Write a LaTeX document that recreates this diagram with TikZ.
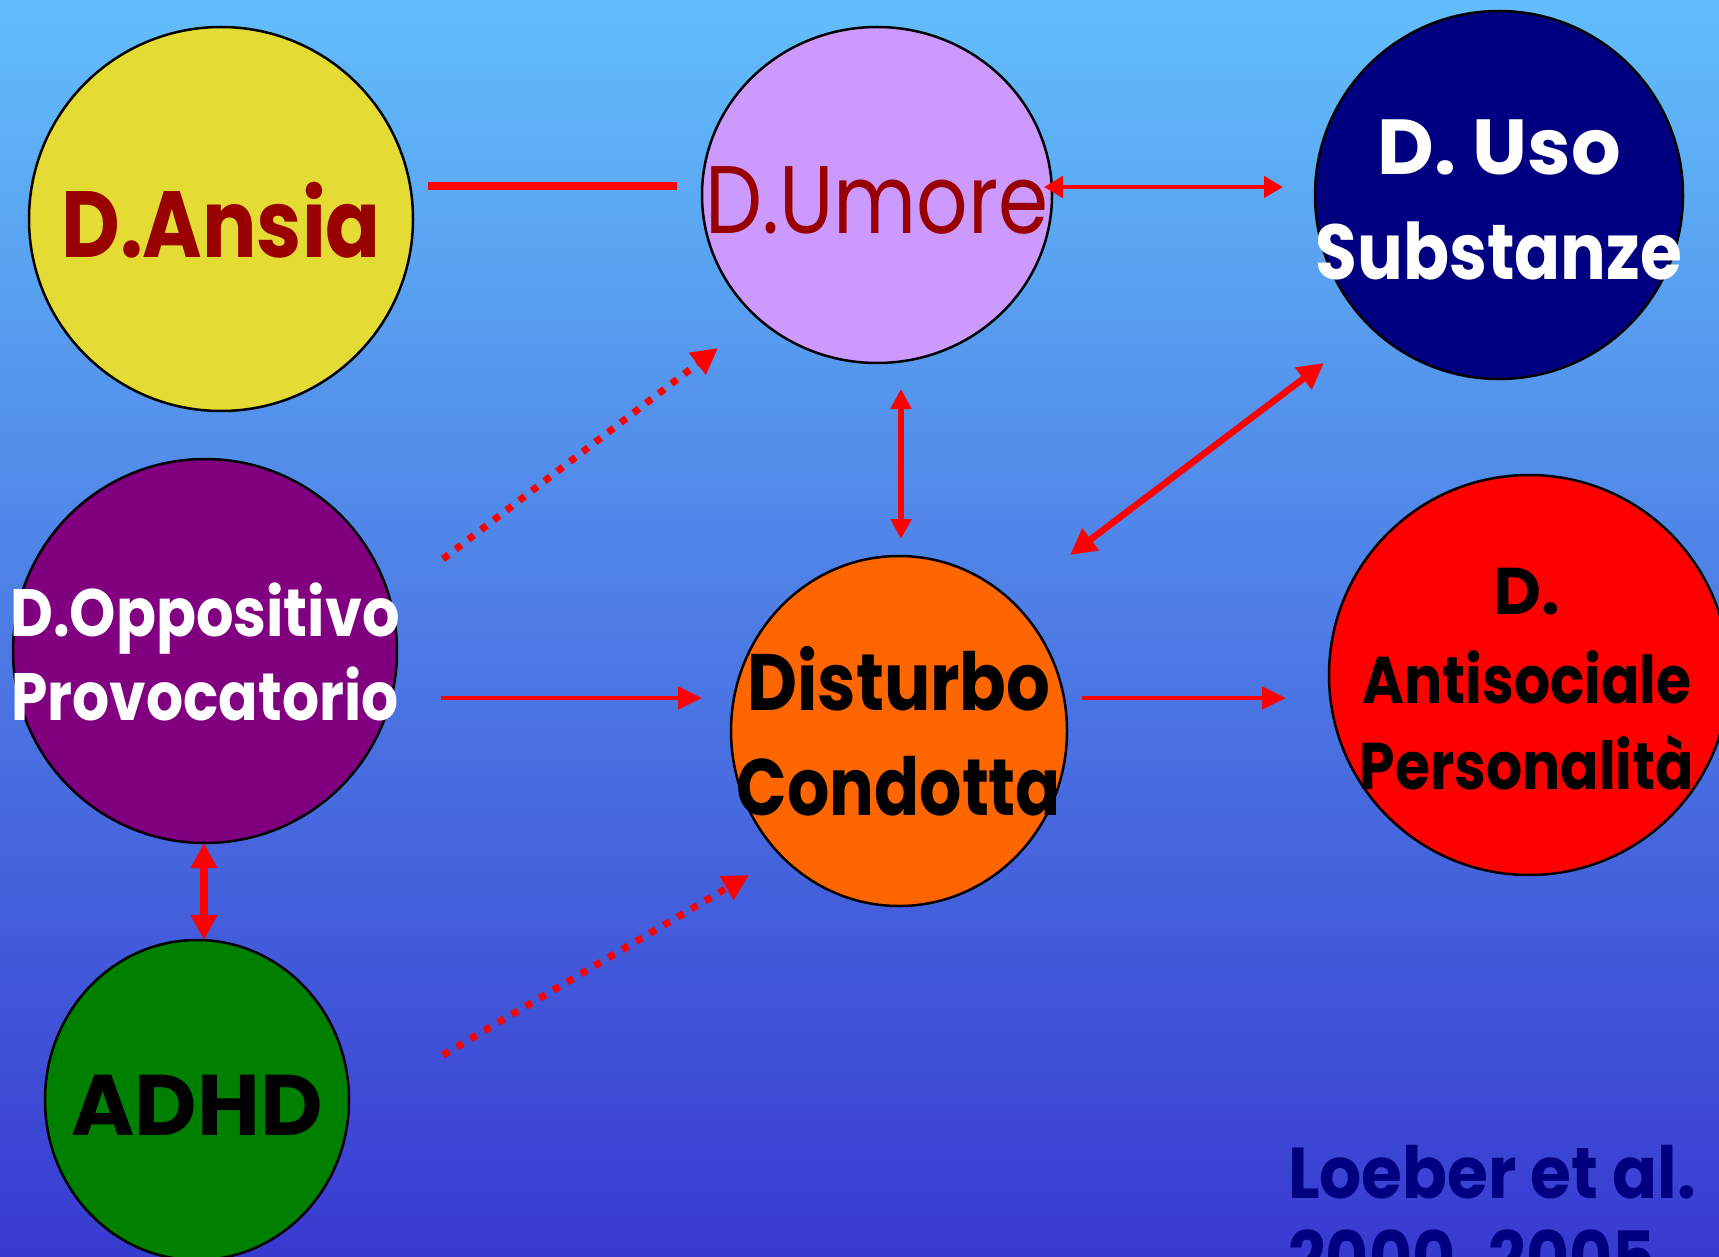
\documentclass[tikz,border=0pt]{standalone}
\usepackage{graphicx}
\usepackage{fontspec}
\setmainfont{Poppins}
\usetikzlibrary{shapes.geometric,arrows.meta}

\definecolor{skytop}{RGB}{98,190,250}
\definecolor{skybot}{RGB}{56,58,208}
\definecolor{ansiafill}{RGB}{228,220,52}
\definecolor{umorefill}{RGB}{204,153,255}
\definecolor{usofill}{RGB}{0,0,128}
\definecolor{oppfill}{RGB}{128,0,128}
\definecolor{condfill}{RGB}{255,102,0}
\definecolor{antifill}{RGB}{255,0,0}
\definecolor{adhdfill}{RGB}{0,128,0}
\definecolor{darkred}{RGB}{153,0,0}
\definecolor{navytext}{RGB}{0,0,128}
\definecolor{linkred}{RGB}{255,0,0}

\newcommand{\fsz}[1]{\fontsize{#1}{#1}\selectfont}
% narrow a label horizontally while keeping its height
\newcommand{\narrow}[2]{\scalebox{#1}[1]{#2}}

\begin{document}
\begin{tikzpicture}[x=1pt,y=-1pt,
  bubble/.style={ellipse, draw=black, line width=2.5pt, inner sep=0pt},
  lbl/.style={anchor=base, inner sep=0pt, outer sep=0pt},
  link/.style={draw=linkred, line width=#1},
  dotlink/.style={draw=linkred, line width=7pt, dash pattern=on 7pt off 9pt,
    -{Triangle[length=26pt,width=26pt]}}
]
\useasboundingbox (0,0) rectangle (1719,1257);
\clip (0,0) rectangle (1719,1257);
\shade[top color=skytop, bottom color=skybot] (0,0) rectangle (1719,1257);

% circles
\node[bubble, fill=ansiafill, minimum width=384pt, minimum height=384pt] (ansia) at (221,219) {};
\node[bubble, fill=umorefill, minimum width=350pt, minimum height=336pt] (umore) at (877,195) {};
\node[bubble, fill=usofill, minimum width=368pt, minimum height=368pt] (uso) at (1499,195) {};
\node[bubble, fill=oppfill, minimum width=384pt, minimum height=384pt] (opp) at (205,651) {};
\node[bubble, fill=condfill, minimum width=336pt, minimum height=350pt] (cond) at (899,731) {};
\node[bubble, fill=antifill, minimum width=400pt, minimum height=400pt] (anti) at (1529,675) {};
\node[bubble, fill=adhdfill, minimum width=304pt, minimum height=320pt] (adhd) at (197,1100) {};

% labels
\node[lbl, text=darkred, font=\fsz{94}\bfseries] (tansia) at (221,258) {\narrow{0.86}{D.Ansia}};
\node[lbl, text=darkred, font=\fsz{96}] (tumore) at (877,234) {\narrow{0.84}{D.Umore}};
\node[lbl, text=white, font=\fsz{78}\bfseries] (tuso1) at (1499,175) {D. Uso};
\node[lbl, text=white, font=\fsz{78}\bfseries] (tuso2) at (1499,280) {\narrow{0.87}{Substanze}};
\node[lbl, text=white, font=\fsz{67}\bfseries] (topp1) at (205,636) {\narrow{0.88}{D.Oppositivo}};
\node[lbl, text=white, font=\fsz{67}\bfseries] (topp2) at (205,720) {\narrow{0.87}{Provocatorio}};
\node[lbl, text=black, font=\fsz{80}\bfseries] (tcond1) at (899,710) {\narrow{0.86}{Disturbo}};
\node[lbl, text=black, font=\fsz{80}\bfseries] (tcond2) at (899,815) {\narrow{0.83}{Condotta}};
\node[lbl, text=black, font=\fsz{66}\bfseries] (tanti1) at (1527,614) {D.};
\node[lbl, text=black, font=\fsz{66}\bfseries] (tanti2) at (1527,703) {\narrow{0.86}{Antisociale}};
\node[lbl, text=black, font=\fsz{66}\bfseries] (tanti3) at (1527,789) {\narrow{0.86}{Personalità}};
\node[lbl, text=black, font=\fsz{86}\bfseries] (tadhd) at (197,1135) {ADHD};
\node[lbl, anchor=base west, text=navytext, font=\fsz{72}\bfseries] (cite1) at (1288,1198) {\narrow{0.92}{Loeber et al.}};
\node[lbl, anchor=base west, text=navytext, font=\fsz{72}\bfseries] (cite2) at (1288,1283) {\narrow{0.92}{2000, 2005}};

% connector end points
\coordinate (a1) at (428,186);  \coordinate (a2) at (677,186);
\coordinate (u1) at (1044,187); \coordinate (u2) at (1283,187);
\coordinate (v1) at (901,389);  \coordinate (v2) at (901,539);
\coordinate (d1) at (1070,555); \coordinate (d2) at (1324,363);
\coordinate (h1) at (441,698);  \coordinate (h2) at (702,698);
\coordinate (k1) at (1082,698); \coordinate (k2) at (1286,698);
\coordinate (o1) at (204,843);  \coordinate (o2) at (204,940);
\coordinate (p1) at (443,559);  \coordinate (p2) at (718,348);
\coordinate (q1) at (443,1055); \coordinate (q2) at (749,875);

% connectors
\draw[link=7.5pt] (a1) -- (a2);
\draw[link=4.5pt, {Triangle[length=19pt,width=21pt]}-{Triangle[length=19pt,width=21pt]}] (u1) -- (u2);
\draw[link=6pt, {Triangle[length=20pt,width=20pt]}-{Triangle[length=20pt,width=20pt]}] (v1) -- (v2);
\draw[link=6.5pt, {Triangle[length=26pt,width=26pt]}-{Triangle[length=26pt,width=26pt]}] (d1) -- (d2);
\draw[link=4.5pt, -{Triangle[length=24pt,width=22pt]}] (h1) -- (h2);
\draw[link=4.5pt, -{Triangle[length=24pt,width=22pt]}] (k1) -- (k2);
\draw[link=8pt, {Triangle[length=25pt,width=25pt]}-{Triangle[length=25pt,width=25pt]}] (o1) -- (o2);
\draw[dotlink] (p1) -- (p2);
\draw[dotlink] (q1) -- (q2);
\end{tikzpicture}
\end{document}
